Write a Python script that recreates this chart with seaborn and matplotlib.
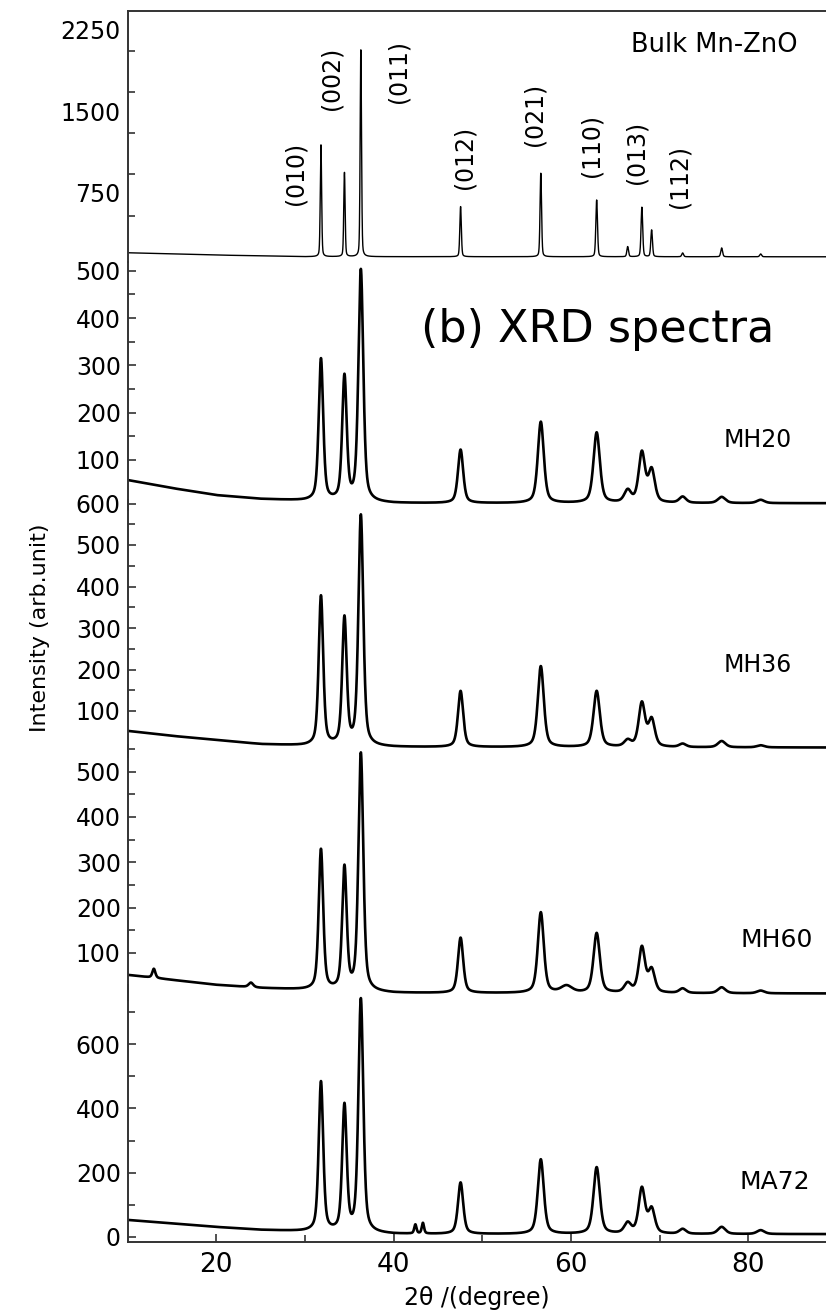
import numpy as np
import matplotlib
matplotlib.use("Agg")
import matplotlib.pyplot as plt
import seaborn as sns
from matplotlib.ticker import FixedLocator, NullFormatter

# ---------------- data ----------------
x_min, x_max = 10.0, 88.77
x_major = [20, 40, 60, 80]
x_minor = [30, 50, 70]

# Bulk Mn-ZnO (sharp reflections)
bulk_pos = [31.8, 34.45, 36.3, 47.55, 56.6, 62.9, 66.4, 68.0, 69.1, 72.6, 77.0, 81.4]
bulk_height = [1028, 774, 1902, 461, 768, 522, 93, 455, 246, 35, 81, 26]
bulk_fwhm = [0.18, 0.18, 0.18, 0.2, 0.2, 0.22, 0.22, 0.22, 0.22, 0.24, 0.24, 0.25]
bulk_bg_x = [10, 20, 30, 90]
bulk_bg_y = [200, 179, 164, 163]

# nanocrystalline samples: common reflections
nano_pos = [31.8, 34.45, 36.3, 47.55, 56.6, 62.9, 66.4, 68.0, 69.1, 72.6, 77.0, 81.4]
nano_fwhm = [0.6, 0.6, 0.65, 0.7, 0.8, 0.85, 0.9, 0.85, 0.85, 0.9, 1.0, 1.0]
mh20_height = [300, 262, 490, 113, 172, 149, 25, 105, 68, 13, 13, 7]
mh36_height = [360, 305, 555, 135, 195, 135, 15, 105, 65, 8, 15, 5]
mh60_height = [310, 270, 525, 122, 178, 132, 20, 100, 50, 10, 13, 6]
ma72_height = [465, 390, 725, 160, 232, 207, 32, 140, 75, 15, 22, 12]

# small extra features
mh60_extra_pos = [12.95, 23.9, 59.5]
mh60_extra_height = [20, 10, 15]
mh60_extra_fwhm = [0.4, 0.6, 1.5]
ma72_extra_pos = [42.45, 43.3]
ma72_extra_height = [28, 33]
ma72_extra_fwhm = [0.3, 0.3]

# backgrounds (anchor points)
nano_bg_x = [10, 15, 20, 25, 30, 40, 90]
mh20_bg_y = [57, 40, 25, 17, 13, 8, 8]
mh36_bg_y = [52, 40, 30, 20, 16, 13, 12]
mh60_bg_y = [51, 40, 29, 22, 18, 11, 10]
ma72_bg_y = [53, 42, 31, 22, 17, 9, 9]

sample_labels = ["Bulk Mn-ZnO", "MH20", "MH36", "MH60", "MA72"]
miller_labels = ["(010)", "(002)", "(011)", "(012)", "(021)", "(110)", "(013)", "(112)"]
miller_x = [28.96, 33.0, 40.57, 48.0, 55.9, 62.3, 67.4, 72.2]
miller_y = [934, 1808, 1863, 1081, 1477, 1191, 1127, 906]

# y ticks of each stacked panel
p1_major = [750, 1500, 2250]
p1_minor = [540, 920, 1300, 1680, 2060]
p2_major = [100, 200, 300, 400, 500]
p2_minor = [150, 250, 350, 450]
p3_major = [100, 200, 300, 400, 500, 600]
p3_minor = [150, 250, 350, 450, 550]
p4_major = [100, 200, 300, 400, 500]
p4_minor = [150, 250, 350, 450, 550]
p5_major = [0, 200, 400, 600]
p5_minor = [100, 300, 500, 700]


def pseudo_voigt(x, pos, height, fwhm, eta):
    y = np.zeros_like(x)
    for p, h, w in zip(pos, height, fwhm):
        d2 = 4.0 * (x - p) ** 2 / w ** 2
        y += h * (eta / (1.0 + d2) + (1.0 - eta) * np.exp(-np.log(2.0) * d2))
    return y


x = np.linspace(10, 90, 8001)
bulk = np.interp(x, bulk_bg_x, bulk_bg_y) + pseudo_voigt(x, bulk_pos, bulk_height, bulk_fwhm, 0.3)
mh20 = np.interp(x, nano_bg_x, mh20_bg_y) + pseudo_voigt(x, nano_pos, mh20_height, nano_fwhm, 0.5)
mh36 = np.interp(x, nano_bg_x, mh36_bg_y) + pseudo_voigt(x, nano_pos, mh36_height, nano_fwhm, 0.5)
mh60 = (np.interp(x, nano_bg_x, mh60_bg_y) + pseudo_voigt(x, nano_pos, mh60_height, nano_fwhm, 0.5)
        + pseudo_voigt(x, mh60_extra_pos, mh60_extra_height, mh60_extra_fwhm, 0.5))
ma72 = (np.interp(x, nano_bg_x, ma72_bg_y) + pseudo_voigt(x, nano_pos, ma72_height, nano_fwhm, 0.5)
        + pseudo_voigt(x, ma72_extra_pos, ma72_extra_height, ma72_extra_fwhm, 0.5))

# ---------------- figure ----------------
sns.set_style("ticks")
plt.rcParams['font.family'] = ['DejaVu Sans']
plt.rcParams['text.color'] = 'black'
plt.rcParams['axes.labelcolor'] = 'black'
plt.rcParams['xtick.labelcolor'] = 'black'
plt.rcParams['ytick.labelcolor'] = 'black'

W, H = 826, 1315
fig = plt.figure(figsize=(W / 100, H / 100), dpi=100)

left_px = 127.7
# (pixel of value 0, pixels per unit, top pixel, bottom pixel)
panel_geom = [
    (274.5, 0.1087, 11, 262),
    (507.0, 0.4725, 262, 510),
    (752.5, 0.415, 500, 757),
    (998.0, 0.4525, 745, 1000),
    (1237.0, 0.3215, 985, 1242),
]
series = [bulk, mh20, mh36, mh60, ma72]
majors = [p1_major, p2_major, p3_major, p4_major, p5_major]
minors = [p1_minor, p2_minor, p3_minor, p4_minor, p5_minor]
lws = [1.0, 1.9, 1.9, 1.9, 1.9]
spine_col = '#333333'

axes = []
for i, (z, s, t, b) in enumerate(panel_geom):
    ax = fig.add_axes([left_px / W, 1 - b / H, 1 - left_px / W, (b - t) / H])
    ax.patch.set_alpha(0)
    sns.lineplot(x=x, y=series[i], ax=ax, color='black', linewidth=lws[i],
                 estimator=None, sort=False, legend=False)
    ax.set_xlim(x_min, x_max)
    ax.set_ylim((z - b) / s, (z - t) / s)
    for sp in ['top', 'bottom', 'right']:
        ax.spines[sp].set_visible(False)
    ax.spines['left'].set_color(spine_col)
    ax.spines['left'].set_linewidth(1.4)
    ax.yaxis.set_major_locator(FixedLocator(majors[i]))
    ax.yaxis.set_minor_locator(FixedLocator(minors[i]))
    ax.yaxis.set_minor_formatter(NullFormatter())
    ax.tick_params(axis='y', which='major', direction='in', length=(0 if i == 0 else 6),
                   width=1.2, color=spine_col, labelsize=17, pad=5, labelcolor='black')
    ax.tick_params(axis='y', which='minor', direction='in', length=5, width=1.2, color=spine_col)
    ax.set_ylabel('')
    ax.set_xlabel('')
    if i < 4:
        ax.tick_params(axis='x', which='both', bottom=False, labelbottom=False)
    axes.append(ax)

ax1, ax2, ax3, ax4, ax5 = axes
ax1.spines['top'].set_visible(True)
ax1.spines['top'].set_color(spine_col)
ax1.spines['top'].set_linewidth(1.4)
ax5.spines['bottom'].set_visible(True)
ax5.spines['bottom'].set_color(spine_col)
ax5.spines['bottom'].set_linewidth(1.4)
ax5.xaxis.set_major_locator(FixedLocator(x_major))
ax5.xaxis.set_minor_locator(FixedLocator(x_minor))
ax5.xaxis.set_minor_formatter(NullFormatter())
ax5.tick_params(axis='x', which='major', direction='in', length=6, width=1.2,
                color=spine_col, labelsize=19, pad=7, labelcolor='black')
ax5.tick_params(axis='x', which='minor', direction='in', length=5, width=1.2, color=spine_col)
ax5.set_xlabel('2θ /(degree)', fontsize=17, labelpad=6, color='black')

ax3.set_ylabel('Intensity (arb.unit)', fontsize=16, color='black')
ax3.yaxis.set_label_coords((50 - left_px) / (W - left_px), (757 - 628) / (757 - 500))

# Miller indices
for lab, mx, my in zip(miller_labels, miller_x, miller_y):
    ax1.text(mx, my, lab, rotation=90, ha='center', va='center', fontsize=17, color='black')


def ftext(px, py, s, **kw):
    fig.text(px / W, 1 - py / H, s, ha='center', va='center', color='black', **kw)


ftext(714, 45, sample_labels[0], fontsize=18.5)
ftext(758, 440, sample_labels[1], fontsize=17)
ftext(758, 665, sample_labels[2], fontsize=17)
ftext(777, 940, sample_labels[3], fontsize=18)
ftext(775, 1182, sample_labels[4], fontsize=18)
ftext(598, 330, '(b) XRD spectra', fontsize=32)

fig.savefig('out.png', dpi=100)
